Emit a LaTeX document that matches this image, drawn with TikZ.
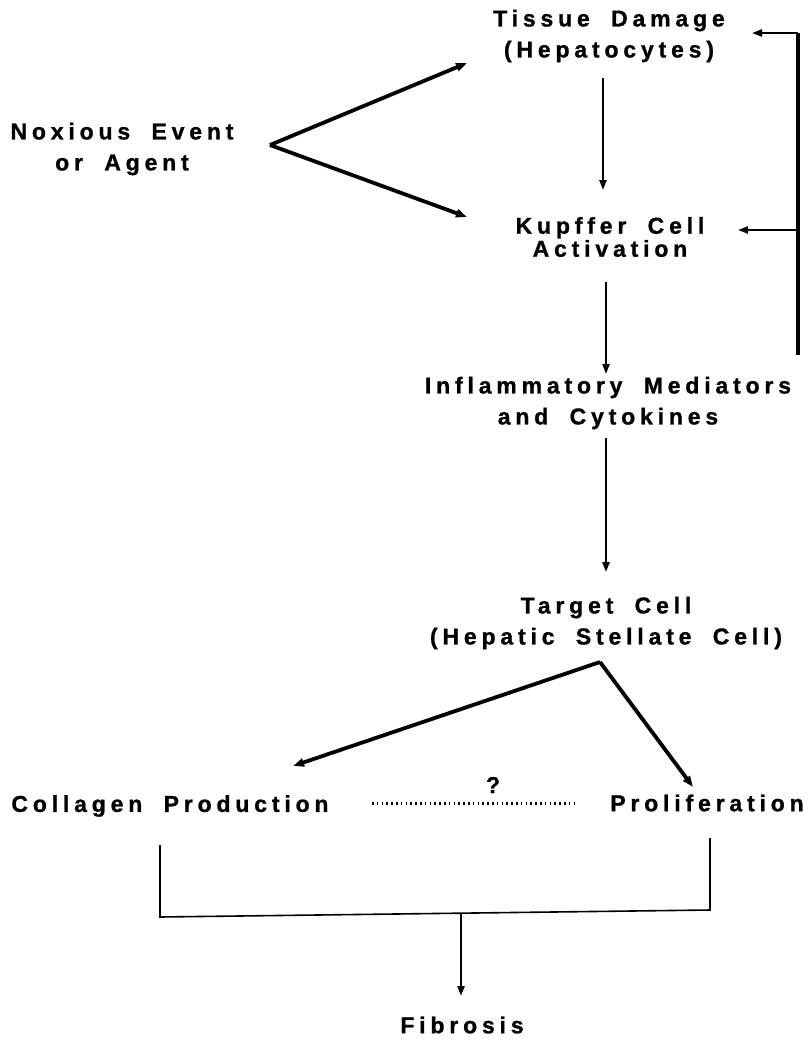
\documentclass[tikz,border=0pt]{standalone}
\usepackage{fontspec}
\setmainfont{Liberation Sans}
\newfontfamily\labfont{Liberation Sans Bold}[LetterSpace=21,WordSpace=1.9,FakeBold=1]
\usetikzlibrary{arrows.meta}
\begin{document}
\begin{tikzpicture}[x=1pt,y=-1pt,
  lbl/.style={font=\labfont\fontsize{23}{31}\selectfont, align=center, inner sep=0pt},
  tightlbl/.style={lbl, font=\labfont\fontsize{23}{23}\selectfont},
  thinarrow/.style={line width=2.2pt, -{Triangle[length=10pt,width=7pt]}},
  heavyarrow/.style={line width=3.8pt, -{Triangle[length=11pt,width=8pt]}},
  bracketline/.style={line width=1.6pt},
  dotline/.style={line width=3pt, dash pattern=on 1.6pt off 3.2pt}]
\path[use as bounding box, fill=white] (0,0) rectangle (808,1042);

% nodes
\node[lbl] (tissue)   at (609,36)  {Tissue Damage\\(Hepatocytes)};
\node[lbl] (noxious)  at (122,149) {Noxious Event\\or Agent};
\node[tightlbl] (kupffer)  at (610,237) {Kupffer Cell\\Activation};
\node[lbl] (inflam)   at (608,403) {Inflammatory Mediators\\and Cytokines};
\node[lbl] (target)   at (606,623) {Target Cell\\(Hepatic Stellate Cell)};
\node[lbl] (collagen) at (170,806) {Collagen Production};
\node[lbl] (prolif)   at (707,803) {Proliferation};
\node[lbl] (fibrosis) at (462,1025) {Fibrosis};
\node[lbl] (qmark)    at (493,785) {?};

% named connector points
\coordinate (fork)  at (270,145);
\coordinate (tipT)  at (467,63);
\coordinate (tipK)  at (467,217);
\coordinate (tkA)   at (603,78);
\coordinate (tkB)   at (603,190);
\coordinate (kiA)   at (606,282);
\coordinate (kiB)   at (606,374);
\coordinate (itA)   at (606,438);
\coordinate (itB)   at (606,572);
\coordinate (apex)  at (600,662);
\coordinate (tipC)  at (293,766);
\coordinate (tipP)  at (693,787);
\coordinate (dotA)  at (372,803);
\coordinate (dotB)  at (578,803);
\coordinate (fbB)   at (798,355);
\coordinate (fbT)   at (798,33);
\coordinate (fbM)   at (798,230);
\coordinate (fbTt)  at (752,33);
\coordinate (fbMt)  at (738,230);
\coordinate (brL)   at (160,845);
\coordinate (brLB)  at (160,917);
\coordinate (brRB)  at (710,910);
\coordinate (brR)   at (710,838);
\coordinate (fibA)  at (461,914);
\coordinate (fibB)  at (461,996);

% connectors
\draw[heavyarrow] (fork) -- (tipT);
\draw[heavyarrow] (fork) -- (tipK);
\draw[thinarrow] (tkA) -- (tkB);
\draw[thinarrow] (kiA) -- (kiB);
\draw[thinarrow] (itA) -- (itB);
\draw[heavyarrow] (apex) -- (tipC);
\draw[heavyarrow] (apex) -- (tipP);
\draw[dotline] (dotA) -- (dotB);
\draw[line width=3.2pt] (fbB) -- (fbT);
\draw[thinarrow] (fbT) -- (fbTt);
\draw[thinarrow] (fbM) -- (fbMt);
\draw[bracketline] (brL) -- (brLB) -- (brRB) -- (brR);
\draw[thinarrow, line width=2.6pt] (fibA) -- (fibB);
\end{tikzpicture}
\end{document}
